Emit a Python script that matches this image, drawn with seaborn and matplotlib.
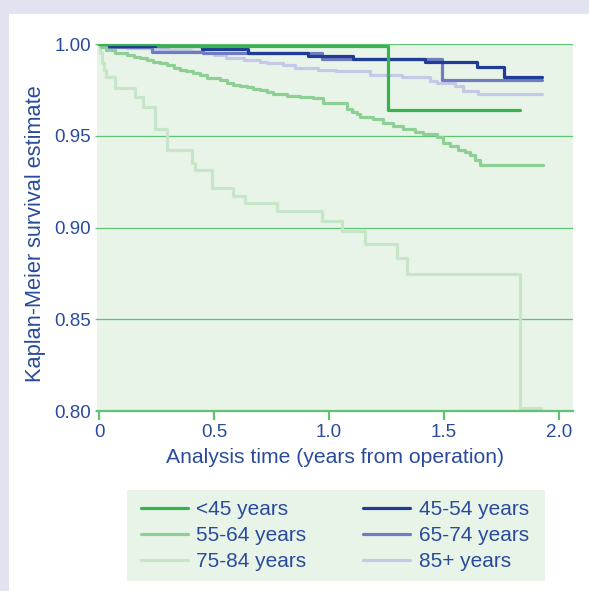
import numpy as np
import pandas as pd
import matplotlib
matplotlib.use("Agg")
import matplotlib.pyplot as plt
import seaborn as sns
from matplotlib.patches import Rectangle

# ---- data ----
groups = ['<45 years', '45-54 years', '55-64 years', '65-74 years', '75-84 years', '85+ years']

t_lt45 = [0, 0.257, 1.255, 1.83]
s_lt45 = [1.0, 0.9993, 0.9642, 0.9642]

t_45_54 = [0, 0.045, 0.447, 0.649, 0.91, 1.106, 1.417, 1.642, 1.761, 1.927]
s_45_54 = [1.0, 0.9993, 0.9974, 0.9953, 0.9935, 0.9920, 0.9905, 0.9875, 0.9823, 0.9823]

t_55_64 = [0, 0.01, 0.03, 0.07, 0.12, 0.15, 0.178, 0.21, 0.236, 0.265, 0.294, 0.325, 0.352,
           0.38, 0.41, 0.44, 0.468, 0.526, 0.555, 0.584, 0.615, 0.642, 0.67, 0.70, 0.73,
           0.758, 0.816, 0.874, 0.932, 0.975, 1.033, 1.077, 1.10, 1.12, 1.135, 1.193, 1.236,
           1.28, 1.323, 1.374, 1.41, 1.468, 1.497, 1.526, 1.562, 1.59, 1.613, 1.635, 1.657,
           1.929]
s_55_64 = [1.0, 0.9985, 0.9969, 0.9951, 0.9942, 0.9933, 0.9924, 0.9914, 0.9905, 0.9896,
           0.9887, 0.9872, 0.986, 0.9852, 0.9845, 0.983, 0.9815, 0.9805, 0.979, 0.9778,
           0.9772, 0.9766, 0.9758, 0.9751, 0.974, 0.9727, 0.972, 0.9714, 0.9706, 0.9682,
           0.9678, 0.9646, 0.9632, 0.962, 0.9602, 0.9591, 0.9573, 0.9555, 0.9537, 0.9524,
           0.951, 0.9493, 0.9464, 0.9446, 0.9424, 0.941, 0.9397, 0.9369, 0.9342, 0.9342]

t_65_74 = [0, 0.02, 0.229, 0.45, 0.968, 1.49, 1.925]
s_65_74 = [1.0, 0.9985, 0.9958, 0.9953, 0.9918, 0.9805, 0.9805]

t_75_84 = [0, 0.005, 0.012, 0.02, 0.028, 0.07, 0.157, 0.19, 0.243, 0.294, 0.403, 0.417,
           0.49, 0.584, 0.635, 0.773, 0.97, 1.058, 1.157, 1.295, 1.338, 1.83, 1.92]
s_75_84 = [1.0, 0.995, 0.990, 0.986, 0.9823, 0.976, 0.971, 0.966, 0.954, 0.9424, 0.935,
           0.9315, 0.9215, 0.9173, 0.9133, 0.9089, 0.9035, 0.8982, 0.8912, 0.8834, 0.8748,
           0.8016, 0.8016]

t_85p = [0, 0.01, 0.05, 0.12, 0.23, 0.30, 0.40, 0.45, 0.50, 0.55, 0.63, 0.70, 0.73, 0.80,
         0.85, 0.95, 1.03, 1.18, 1.317, 1.439, 1.468, 1.548, 1.584, 1.649, 1.927]
s_85p = [1.0, 0.999, 0.9985, 0.998, 0.9975, 0.997, 0.9962, 0.9955, 0.994, 0.9928, 0.9916,
         0.9905, 0.9898, 0.9885, 0.9871, 0.9862, 0.9853, 0.9834, 0.982, 0.9802, 0.9789,
         0.9771, 0.9747, 0.9731, 0.9731]

x_ticks = [0, 0.5, 1.0, 1.5, 2.0]
x_tick_labels = ['0', '0.5', '1.0', '1.5', '2.0']
y_ticks = [0.80, 0.85, 0.90, 0.95, 1.00]
y_tick_labels = ['0.80', '0.85', '0.90', '0.95', '1.00']

series = {
    '<45 years': (t_lt45, s_lt45),
    '45-54 years': (t_45_54, s_45_54),
    '55-64 years': (t_55_64, s_55_64),
    '65-74 years': (t_65_74, s_65_74),
    '75-84 years': (t_75_84, s_75_84),
    '85+ years': (t_85p, s_85p),
}
frames = [pd.DataFrame({'time': t, 'surv': s, 'group': g}) for g, (t, s) in series.items()]
df = pd.concat(frames, ignore_index=True)

palette = {
    '<45 years': '#36b34f',
    '45-54 years': '#1f3c96',
    '55-64 years': '#8dcf95',
    '65-74 years': '#6f7dc0',
    '75-84 years': '#c6e5c9',
    '85+ years': '#c5c9e8',
}
draw_order = ['85+ years', '75-84 years', '65-74 years', '55-64 years', '45-54 years', '<45 years']
legend_order = ['<45 years', '55-64 years', '75-84 years', '45-54 years', '65-74 years', '85+ years']

TEXT = '#2a4b9b'
GRID = '#5ec474'
PANEL = '#e8f4e8'
LAV = '#e1e3f1'

sns.set_theme(style='white')
plt.rcParams['font.family'] = ['Liberation Sans', 'DejaVu Sans']

fig = plt.figure(figsize=(5.89, 5.91), dpi=100)
fig.patch.set_facecolor('white')
W, H = 589, 591
fig.patches.append(Rectangle((0, 0), 9 / W, 1, transform=fig.transFigure,
                             facecolor=LAV, edgecolor='none', zorder=-10))
fig.patches.append(Rectangle((0, 1 - 14 / H), 1, 14 / H, transform=fig.transFigure,
                             facecolor=LAV, edgecolor='none', zorder=-10))
# legend background box
fig.patches.append(Rectangle((126.7 / W, 1 - 580.7 / H), (545 - 126.7) / W, (580.7 - 490) / H,
                             transform=fig.transFigure, facecolor=PANEL,
                             edgecolor='none', zorder=-5))

ax = fig.add_axes([97 / W, 1 - 411 / H, (572.5 - 97) / W, (411 - 44.3) / H])
ax.set_facecolor(PANEL)

sns.lineplot(data=df, x='time', y='surv', hue='group', hue_order=draw_order,
             palette=palette, estimator=None, drawstyle='steps-post',
             linewidth=2.3, ax=ax)

ax.set_xlim(-0.009, 2.059)
ax.set_ylim(0.80, 1.00)
ax.set_xticks(x_ticks)
ax.set_xticklabels(x_tick_labels)
ax.set_yticks(y_ticks)
ax.set_yticklabels(y_tick_labels)

for y in y_ticks[1:]:
    ax.axhline(y, color=GRID, linewidth=0.9, zorder=0.5)

for side in ['top', 'right', 'left']:
    ax.spines[side].set_visible(False)
ax.spines['bottom'].set_color(GRID)
ax.spines['bottom'].set_linewidth(1.6)

ax.tick_params(axis='x', colors=GRID, direction='out', length=6.5, width=1.6,
               labelsize=13.5, labelcolor=TEXT, pad=3, bottom=True)
ax.tick_params(axis='y', colors=GRID, direction='out', length=1.5, width=0.9,
               labelsize=13.5, labelcolor=TEXT, pad=3, left=True)

ax.set_xlabel('Analysis time (years from operation)', fontsize=15.2, color=TEXT, labelpad=5)
ax.set_ylabel('Kaplan-Meier survival estimate', fontsize=15.7, color=TEXT)
ax.yaxis.set_label_coords(-0.107, 0.485)

handles, labels = ax.get_legend_handles_labels()
hmap = dict(zip(labels, handles))
for h in hmap.values():
    h.set_linewidth(2.3)
leg = ax.legend([hmap[l] for l in legend_order], legend_order, ncol=2,
                loc='upper left', bbox_to_anchor=(132.5 / W, 1 - 492 / H),
                bbox_transform=fig.transFigure, frameon=False, fontsize=15,
                handlelength=2.25, handletextpad=0.4, columnspacing=2.75,
                borderpad=0.4, labelspacing=0.33, borderaxespad=0)
for txt in leg.get_texts():
    txt.set_color(TEXT)

fig.savefig('out.png', dpi=100, facecolor=fig.get_facecolor())
